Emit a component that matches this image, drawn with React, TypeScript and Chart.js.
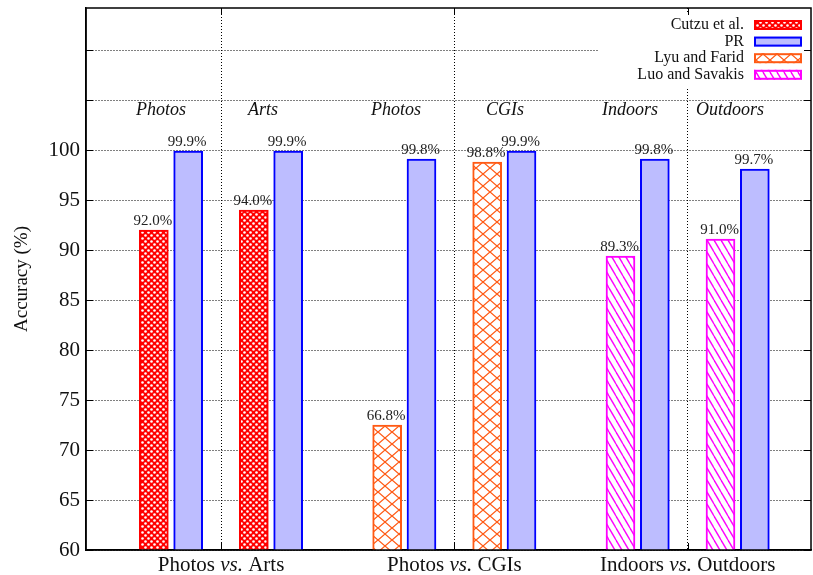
import React, { useEffect, useRef } from 'react';
import { Chart, registerables } from 'chart.js';

Chart.register(...registerables);

// ---------- data ----------
const groupLabelParts = [
  ['Photos ', 'vs.', ' Arts'],
  ['Photos ', 'vs.', ' CGIs'],
  ['Indoors ', 'vs.', ' Outdoors'],
];
const groupSeparators = [2.5, 9.5, 16.5];
const pairCenters = [1, 4, 8, 11, 15, 18];
const subLabels = ['Photos', 'Arts', 'Photos', 'CGIs', 'Indoors', 'Outdoors'];
const subLabelAnchors = [0.7, 3.76, 7.75, 11.02, 14.77, 17.77];
const yTicks = [60, 65, 70, 75, 80, 85, 90, 95, 100, 105, 110];

const cutzuPairs = [0, 1];
const cutzuValues = [92.0, 94.0];
const cutzuLabels = ['92.0%', '94.0%'];

const prPairs = [0, 1, 2, 3, 4, 5];
const prValues = [99.9, 99.9, 99.1, 99.9, 99.1, 98.1];
const prLabels = ['99.9%', '99.9%', '99.8%', '99.9%', '99.8%', '99.7%'];

const lyuPairs = [2, 3];
const lyuValues = [72.5, 98.8];
const lyuLabels = ['66.8%', '98.8%'];

const luoPairs = [4, 5];
const luoValues = [89.4, 91.1];
const luoLabels = ['89.3%', '91.0%'];

const legendLabels = ['Cutzu et al.', 'PR', 'Lyu and Farid', 'Luo and Savakis'];

// ---------- styling ----------
const SERIF = '"Liberation Serif", "Times New Roman", serif';
const BAR_SHIFT = 0.515;
const RED = '#ff0000';
const BLUE = '#0000ff';
const PR_FILL = '#bdbdff';
const ORANGE = '#ff5a14';
const MAGENTA = '#ff00ff';

function makePattern(w: number, h: number, bg: string, draw: (g: CanvasRenderingContext2D) => void) {
  const c = document.createElement('canvas');
  c.width = w;
  c.height = h;
  const g = c.getContext('2d')!;
  g.fillStyle = bg;
  g.fillRect(0, 0, w, h);
  draw(g);
  return g.createPattern(c, 'repeat')!;
}

function drawMixed(ctx: CanvasRenderingContext2D, parts: string[], fonts: string[], cx: number, cy: number) {
  const widths = parts.map((p, i) => {
    ctx.font = fonts[i];
    return ctx.measureText(p).width;
  });
  const total = widths.reduce((a, b) => a + b, 0);
  let xx = cx - total / 2;
  ctx.textAlign = 'left';
  parts.forEach((p, i) => {
    ctx.font = fonts[i];
    ctx.fillText(p, xx, cy);
    xx += widths[i];
  });
}

export default function App() {
  const ref = useRef<HTMLCanvasElement>(null);

  useEffect(() => {
    document.body.style.margin = '0';
    const canvas = ref.current!;

    const redPat = makePattern(6, 6, RED, (g) => {
      g.fillStyle = '#ffffff';
      g.beginPath();
      g.arc(1.5, 1.5, 1.3, 0, Math.PI * 2);
      g.fill();
      g.beginPath();
      g.arc(4.5, 4.5, 1.3, 0, Math.PI * 2);
      g.fill();
    });
    const orangePat = makePattern(14, 12, '#ffffff', (g) => {
      g.strokeStyle = ORANGE;
      g.lineWidth = 1.3;
      for (const dx of [-14, 0, 14]) {
        g.beginPath();
        g.moveTo(dx, 0);
        g.lineTo(dx + 14, 12);
        g.moveTo(dx + 14, 0);
        g.lineTo(dx, 12);
        g.stroke();
      }
    });
    const magentaPat = makePattern(7, 12, '#ffffff', (g) => {
      g.strokeStyle = MAGENTA;
      g.lineWidth = 1.4;
      for (const dx of [-7, 0, 7]) {
        g.beginPath();
        g.moveTo(dx, 0);
        g.lineTo(dx + 7, 12);
        g.stroke();
      }
    });

    const seriesLabels = [cutzuLabels, prLabels, lyuLabels, luoLabels];
    const legendStyles = [
      { fill: redPat as any, border: RED },
      { fill: PR_FILL as any, border: BLUE },
      { fill: orangePat as any, border: ORANGE },
      { fill: magentaPat as any, border: MAGENTA },
    ];

    const common = {
      grouped: false,
      maxBarThickness: 29,
      barPercentage: 1,
      categoryPercentage: 1,
      borderSkipped: false as const,
      borderWidth: 2,
    };

    const annotPlugin = {
      id: 'annot',
      afterDraw(chart: any) {
        const { ctx, chartArea: a } = chart;
        const xs = chart.scales.x;
        const ys = chart.scales.y;
        ctx.save();

        // legend box
        ctx.fillStyle = '#ffffff';
        ctx.fillRect(598, 12, 211, 76);
        legendLabels.forEach((lab, i) => {
          const cy = 25 + i * 16.6;
          ctx.fillStyle = '#111';
          ctx.font = `16px ${SERIF}`;
          ctx.textAlign = 'right';
          ctx.textBaseline = 'middle';
          ctx.fillText(lab, 744, cy);
          const st = legendStyles[i];
          ctx.fillStyle = st.fill;
          ctx.fillRect(754, cy - 5, 48, 10);
          ctx.strokeStyle = st.border;
          ctx.lineWidth = 2;
          ctx.strokeRect(755, cy - 4, 46, 8);
        });

        // frame
        ctx.strokeStyle = '#000';
        ctx.lineWidth = 1.5;
        ctx.strokeRect(a.left, a.top, a.right - a.left, a.bottom - a.top);

        // inward ticks
        ctx.lineWidth = 1;
        ctx.beginPath();
        yTicks.forEach((v) => {
          const py = Math.round(ys.getPixelForValue(v)) + 0.5;
          ctx.moveTo(a.left, py);
          ctx.lineTo(a.left + 7, py);
          ctx.moveTo(a.right, py);
          ctx.lineTo(a.right - 7, py);
        });
        groupSeparators.forEach((s) => {
          const px = Math.round(xs.getPixelForValue(s)) + 0.5;
          ctx.moveTo(px, a.bottom);
          ctx.lineTo(px, a.bottom - 7);
          ctx.moveTo(px, a.top);
          ctx.lineTo(px, a.top + 7);
        });
        ctx.stroke();

        // bar value labels
        ctx.fillStyle = '#222';
        ctx.font = `15px ${SERIF}`;
        ctx.textAlign = 'center';
        ctx.textBaseline = 'alphabetic';
        seriesLabels.forEach((labels, di) => {
          const meta = chart.getDatasetMeta(di);
          meta.data.forEach((el: any, j: number) => {
            ctx.fillText(labels[j], el.x - 1, el.y - 5);
          });
        });

        // sub labels (italic) at top
        ctx.fillStyle = '#111';
        ctx.font = `italic 18px ${SERIF}`;
        ctx.textBaseline = 'middle';
        subLabels.forEach((lab, k) => {
          ctx.fillText(lab, xs.getPixelForValue(subLabelAnchors[k]), 110);
        });

        // group labels at bottom
        ctx.textBaseline = 'alphabetic';
        groupLabelParts.forEach((parts, k) => {
          drawMixed(
            ctx,
            parts,
            [`21px ${SERIF}`, `italic 21px ${SERIF}`, `21px ${SERIF}`],
            xs.getPixelForValue(groupSeparators[k]),
            571
          );
        });
        ctx.restore();
      },
    };

    const chart = new Chart(canvas, {
      type: 'bar',
      data: {
        datasets: [
          {
            label: legendLabels[0],
            data: cutzuValues.map((v, i) => ({ x: pairCenters[cutzuPairs[i]] - BAR_SHIFT, y: v })),
            backgroundColor: redPat as any,
            borderColor: RED,
            ...common,
          },
          {
            label: legendLabels[1],
            data: prValues.map((v, i) => ({ x: pairCenters[prPairs[i]] + BAR_SHIFT, y: v })),
            backgroundColor: PR_FILL,
            borderColor: BLUE,
            ...common,
          },
          {
            label: legendLabels[2],
            data: lyuValues.map((v, i) => ({ x: pairCenters[lyuPairs[i]] - BAR_SHIFT, y: v })),
            backgroundColor: orangePat as any,
            borderColor: ORANGE,
            ...common,
          },
          {
            label: legendLabels[3],
            data: luoValues.map((v, i) => ({ x: pairCenters[luoPairs[i]] - BAR_SHIFT, y: v })),
            backgroundColor: magentaPat as any,
            borderColor: MAGENTA,
            ...common,
          },
        ] as any,
      },
      options: {
        responsive: false,
        animation: false,
        events: [],
        layout: { padding: { top: 8, right: 2, left: 0, bottom: 0 } },
        plugins: { legend: { display: false }, tooltip: { enabled: false } },
        scales: {
          x: {
            type: 'linear',
            min: -1.55,
            max: 20.2,
            offset: false,
            afterBuildTicks: (s: any) => {
              s.ticks = groupSeparators.map((v) => ({ value: v }));
            },
            afterFit: (s: any) => {
              s.height = 25;
              s.paddingLeft = 0;
              s.paddingRight = 0;
            },
            ticks: { display: false },
            grid: { color: '#000', lineWidth: 1, drawTicks: false, offset: false },
            border: { display: true, color: '#000', width: 1.5, dash: [1, 2] },
          },
          y: {
            type: 'linear',
            min: 60,
            max: 114.2,
            afterBuildTicks: (s: any) => {
              s.ticks = yTicks.map((v) => ({ value: v }));
            },
            afterFit: (s: any) => {
              s.width = 86;
              s.paddingTop = 0;
              s.paddingBottom = 0;
            },
            ticks: {
              callback: (v: any) => (Number(v) <= 100 ? String(v) : ''),
              font: { family: SERIF, size: 21 },
              color: '#111',
              padding: 6,
            },
            grid: { color: '#000', lineWidth: 1, drawTicks: false },
            border: { display: true, color: '#000', width: 1.5, dash: [1, 2] },
            title: {
              display: true,
              text: 'Accuracy (%)',
              font: { family: SERIF, size: 19 },
              color: '#111',
              padding: { top: 11, bottom: 0 },
            },
          },
        } as any,
      },
      plugins: [annotPlugin],
    });

    return () => chart.destroy();
  }, []);

  return (
    <div style={{ width: 813, height: 575 }}>
      <canvas ref={ref} width={813} height={575} style={{ display: 'block' }} />
    </div>
  );
}
